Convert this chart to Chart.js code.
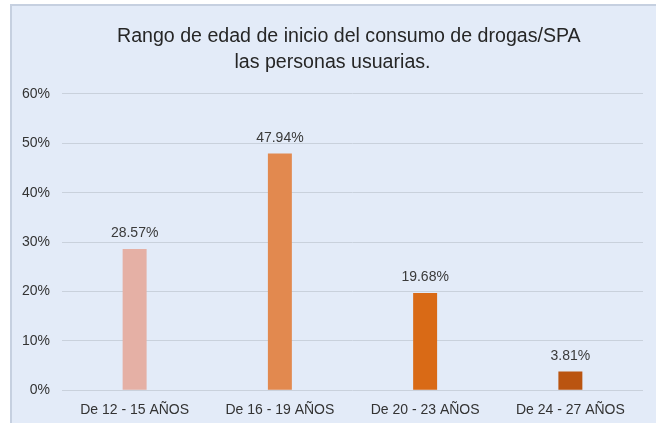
<!DOCTYPE html>
<html>
<head>
<meta charset="utf-8">
<script src="https://cdn.jsdelivr.net/npm/chart.js@4"></script>
<style>
  html, body { margin: 0; padding: 0; background: #ffffff; }
  body { width: 656px; height: 423px; position: relative; overflow: hidden; }
  #panel {
    position: absolute; left: 10px; top: 4px; width: 646px; height: 430px;
    background: #E3EBF8; border-left: 2px solid #C6D0E0; border-top: 2px solid #C6D0E0;
  }
  #wrap { position: absolute; left: 0; top: 0; width: 646px; height: 425px; }
</style>
</head>
<body>
<div id="panel"><div id="wrap"><canvas id="c"></canvas></div></div>
<script>
const titleLines = ['      Rango de edad de inicio del consumo de drogas/SPA', 'las personas usuarias.'];
const categories = ['De 12 - 15 AÑOS', 'De 16 - 19 AÑOS', 'De 20 - 23 AÑOS', 'De 24 - 27 AÑOS'];
const values = [28.57, 47.94, 19.68, 3.81];
const valueLabels = ['28.57%', '47.94%', '19.68%', '3.81%'];
const barColors = ['#E5B0A5', '#E2894F', '#D96A16', '#BA5410'];
const yMax = 60;
const yStep = 10;

const FONT = "'Liberation Sans', Arial, sans-serif";

const dataLabelPlugin = {
  id: 'dataLabels',
  afterDatasetsDraw(chart) {
    const ctx = chart.ctx;
    const meta = chart.getDatasetMeta(0);
    ctx.save();
    ctx.font = '14px ' + FONT;
    ctx.fillStyle = '#3a3a3a';
    ctx.textAlign = 'center';
    ctx.textBaseline = 'middle';
    meta.data.forEach((bar, i) => {
      ctx.fillText(valueLabels[i], bar.x, bar.y - 15.5);
    });
    ctx.restore();
  }
};

new Chart(document.getElementById('c'), {
  type: 'bar',
  data: {
    labels: categories,
    datasets: [{
      data: values,
      backgroundColor: barColors,
      borderWidth: 0,
      barPercentage: 0.165,
      categoryPercentage: 1
    }]
  },
  options: {
    responsive: true,
    maintainAspectRatio: false,
    animation: false,
    devicePixelRatio: 1,
    layout: { padding: { left: 10, right: 15, top: 0, bottom: 0 } },
    plugins: {
      legend: { display: false },
      tooltip: { enabled: false },
      title: {
        display: true,
        text: titleLines,
        color: '#262626',
        font: { family: FONT, size: 19.6, weight: 'normal', lineHeight: 1.35 },
        padding: { top: 17, bottom: 18 }
      }
    },
    scales: {
      x: {
        grid: { display: false, drawTicks: false },
        border: { display: false },
        ticks: {
          color: '#333333',
          font: { family: FONT, size: 14 },
          padding: 12,
          maxRotation: 0,
          autoSkip: false
        }
      },
      y: {
        min: 0,
        max: yMax,
        afterFit: s => { s.width = 40; },
        grid: { color: '#C9D1DC', lineWidth: 1, drawTicks: false },
        border: { display: false },
        ticks: {
          stepSize: yStep,
          color: '#333333',
          font: { family: FONT, size: 14 },
          padding: 12,
          callback: v => v + '%'
        }
      }
    }
  },
  plugins: [dataLabelPlugin]
});
</script>
</body>
</html>
